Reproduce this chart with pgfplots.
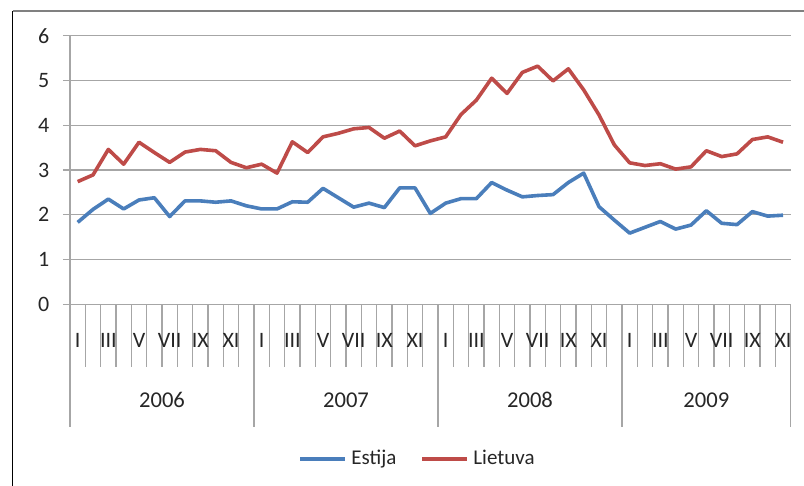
\documentclass[border=0pt]{standalone}
\usepackage{fontspec}
\setmainfont{Carlito}
\usepackage{pgfplots}
\pgfplotsset{compat=1.18}

\definecolor{estblue}{HTML}{4A7EBB}
\definecolor{ltred}{HTML}{BE4B48}
\definecolor{gridc}{HTML}{A6A6A6}
\definecolor{txt}{HTML}{262626}

\tikzset{
  mlab/.style={text=txt, font=\fontsize{11}{13}\selectfont, yshift=-17.85pt},
  ylab/.style={text=txt, font=\fontsize{11.3}{13}\selectfont, yshift=-47.85pt},
}

% month index (0 = I 2006), value
\pgfplotstableread{
m v
0 1.83
1 2.12
2 2.35
3 2.13
4 2.33
5 2.38
6 1.96
7 2.31
8 2.31
9 2.28
10 2.31
11 2.20
12 2.13
13 2.13
14 2.29
15 2.28
16 2.59
17 2.38
18 2.17
19 2.26
20 2.16
21 2.60
22 2.60
23 2.03
24 2.26
25 2.36
26 2.36
27 2.72
28 2.55
29 2.40
30 2.43
31 2.45
32 2.72
33 2.93
34 2.18
35 1.88
36 1.59
37 1.72
38 1.85
39 1.68
40 1.77
41 2.09
42 1.81
43 1.78
44 2.07
45 1.97
46 1.99
}\estija

\pgfplotstableread{
m v
0 2.74
1 2.89
2 3.46
3 3.13
4 3.62
5 3.39
6 3.17
7 3.40
8 3.46
9 3.43
10 3.17
11 3.05
12 3.13
13 2.93
14 3.63
15 3.39
16 3.74
17 3.82
18 3.92
19 3.95
20 3.71
21 3.87
22 3.54
23 3.65
24 3.74
25 4.24
26 4.56
27 5.05
28 4.71
29 5.18
30 5.32
31 4.99
32 5.26
33 4.79
34 4.23
35 3.56
36 3.16
37 3.10
38 3.14
39 3.02
40 3.07
41 3.43
42 3.30
43 3.36
44 3.68
45 3.74
46 3.62
}\lietuva

\begin{document}
\fontsize{11}{13}\selectfont
\begin{tikzpicture}
\begin{axis}[
  at={(0,0)}, anchor=south west,
  scale only axis, width=360.35pt, height=134.3pt,
  xmin=-0.5, xmax=46.5, ymin=0, ymax=6,
  axis x line*=bottom, axis y line*=left,
  axis line style={gridc, line width=0.6pt},
  xtick=\empty, ytick={0,...,6},
  ymajorgrids, grid style={gridc, line width=0.6pt},
  tick align=outside, major tick length=3.5pt,
  tick style={gridc, line width=0.6pt},
  yticklabel style={font=\fontsize{11}{13}\selectfont, text=txt, xshift=-3pt},
  /pgf/number format/assume math mode=true,
  clip=false,
  legend columns=2,
  legend style={draw=none, fill=none, at={(0.4836,-0.576)}, anchor=center,
    font=\fontsize{10.5}{12.6}\selectfont, text=txt,
    /tikz/every even column/.append style={column sep=10pt}},
  legend image code/.code={\draw[#1, line width=2pt] (0pt,0pt) -- (22.5pt,0pt);},
]
\addplot[estblue, line width=1.8pt, line join=round] table[x=m, y=v] {\estija};
\addlegendentry{Estija}
\addplot[ltred, line width=1.8pt, line join=round] table[x=m, y=v] {\lietuva};
\addlegendentry{Lietuva}

% month separators and year separators
\pgfplotsinvokeforeach{-0.5,0.5,...,46.5}{
  \draw[gridc, line width=0.6pt] (axis cs:#1,0) -- ++(0pt,-31.35pt);
}
\pgfplotsinvokeforeach{-0.5,11.5,23.5,35.5,46.5}{
  \draw[gridc, line width=0.6pt] (axis cs:#1,0) -- ++(0pt,-61.35pt);
}

% month labels
\pgfplotsinvokeforeach{0,12,24,36}{\node[mlab] at (axis cs:#1,0) {I};}
\pgfplotsinvokeforeach{2,14,26,38}{\node[mlab] at (axis cs:#1,0) {III};}
\pgfplotsinvokeforeach{4,16,28,40}{\node[mlab] at (axis cs:#1,0) {V};}
\pgfplotsinvokeforeach{6,18,30,42}{\node[mlab] at (axis cs:#1,0) {VII};}
\pgfplotsinvokeforeach{8,20,32,44}{\node[mlab] at (axis cs:#1,0) {IX};}
\pgfplotsinvokeforeach{10,22,34,46}{\node[mlab] at (axis cs:#1,0) {XI};}

% year labels
\node[ylab] at (axis cs:5.5,0) {2006};
\node[ylab] at (axis cs:17.5,0) {2007};
\node[ylab] at (axis cs:29.5,0) {2008};
\node[ylab] at (axis cs:41,0) {2009};
\end{axis}
\pgfresetboundingbox
\path[use as bounding box] (-35pt,-90.85pt) rectangle (367pt,152.15pt);
\draw[black, line width=0.7pt] (-28.65pt,-90.85pt) -- (-28.65pt,146.8pt);
\draw[gray, line width=1pt] (-28.65pt,146.8pt) -- (367pt,146.8pt);
\end{tikzpicture}
\end{document}
